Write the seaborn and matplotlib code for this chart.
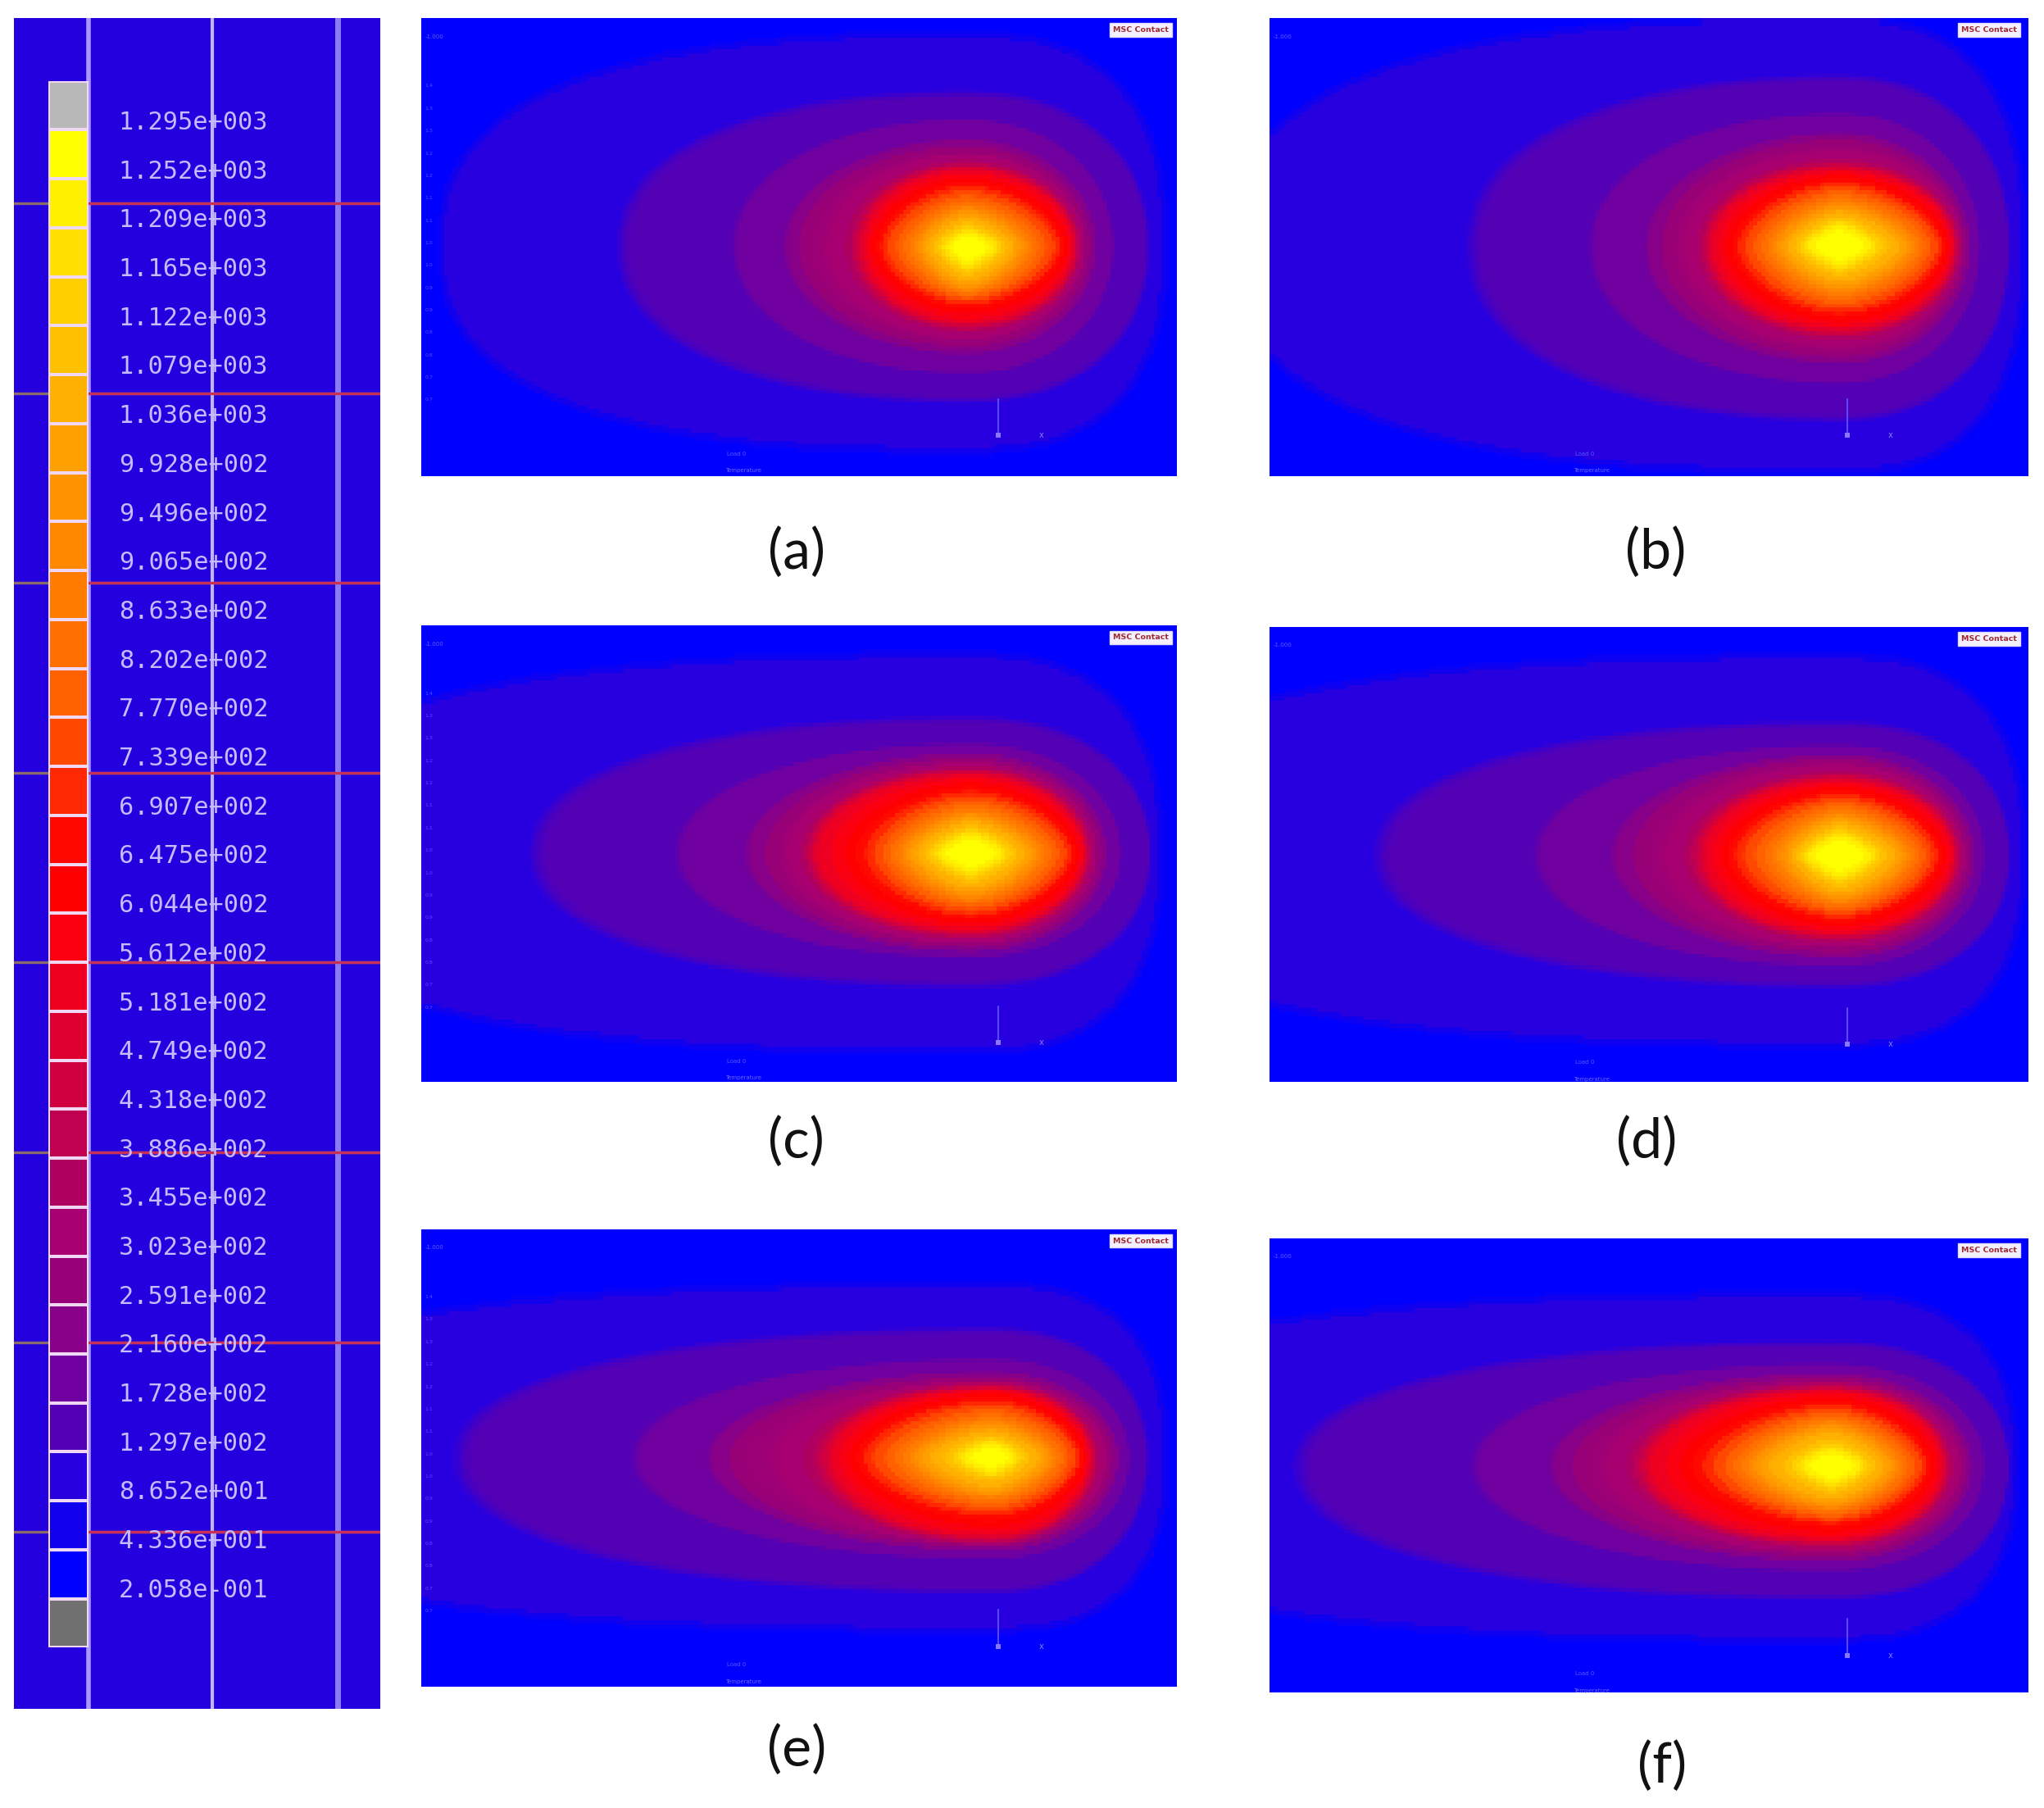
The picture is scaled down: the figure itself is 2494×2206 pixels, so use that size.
import numpy as np
import matplotlib
matplotlib.use("Agg")
import matplotlib.pyplot as plt
import seaborn as sns
from matplotlib.colors import ListedColormap, Normalize, to_rgb

# colour bar, top to bottom
bar_labels = ["1.295e+003", "1.252e+003", "1.209e+003", "1.165e+003", "1.122e+003", "1.079e+003",
              "1.036e+003", "9.928e+002", "9.496e+002", "9.065e+002", "8.633e+002", "8.202e+002",
              "7.770e+002", "7.339e+002", "6.907e+002", "6.475e+002", "6.044e+002", "5.612e+002",
              "5.181e+002", "4.749e+002", "4.318e+002", "3.886e+002", "3.455e+002", "3.023e+002",
              "2.591e+002", "2.160e+002", "1.728e+002", "1.297e+002", "8.652e+001", "4.336e+001",
              "2.058e-001"]
bar_colors = ["#ffff00", "#fff000", "#ffe000", "#ffd000", "#ffc000", "#ffb000", "#ffa000", "#ff9400",
              "#ff8800", "#ff7c00", "#ff7000", "#ff6000", "#ff4800", "#ff2800", "#ff0800", "#ff0000",
              "#fa0010", "#f00020", "#e00030", "#d00040", "#c00050", "#b00060", "#a80070", "#980078",
              "#880088", "#7000a0", "#5400b4", "#2800e0", "#1000ee", "#0000ff"]
over_color = "#b8b8b8"
under_color = "#707070"
band_edges = [0, 43.36, 86.52, 129.7, 172.8, 216, 259.1, 302.3, 345.5, 388.6, 431.8, 474.9, 518.1, 561.2,
              604.4, 647.5, 690.7, 733.9, 777, 820.2, 863.3, 906.5, 949.6, 992.8, 1036, 1079, 1122, 1165,
              1209, 1252, 1400]

# isotherm temperatures, outer to inner, and the peak
iso_temps = [92, 135, 195, 300, 518, 720, 1020, 1252]
peak_temp = 1295
floor_temp = 20

# panel readings: peak and the extent of every isotherm on the plate (x 0-580, y 0-350)
a_peak = (418, 175)
a_left = [15, 157, 249, 295, 338, 354, 385, 403]
a_right = [570, 558, 526, 510, 501, 488, 457, 438]
a_top = [12, 58, 81, 101, 115, 130, 150, 165]
a_bottom = [332, 293, 269, 249, 235, 218, 205, 188]

b_peak = (435, 175)
b_left = [-30, 159, 255, 305, 337, 360, 392, 412]
b_right = [576, 566, 538, 530, 523, 512, 485, 458]
b_top = [0, 46, 77, 96, 115, 127, 146, 160]
b_bottom = [348, 307, 276, 257, 240, 225, 205, 188]

c_peak = (421, 175)
c_left = [-130, 93, 208, 271, 302, 344, 376, 398]
c_right = [567, 560, 532, 519, 509, 497, 467, 444]
c_top = [22, 72, 94, 103, 113, 129, 148, 162]
c_bottom = [328, 276, 252, 247, 236, 222, 205, 188]

d_peak = (435, 176)
d_left = [-150, 90, 216, 285, 331, 358, 396, 412]
d_right = [576, 566, 542, 533, 523, 508, 481, 458]
d_top = [22, 75, 94, 103, 117, 130, 148, 162]
d_bottom = [323, 276, 259, 250, 238, 223, 208, 191]

e_peak = (437, 175)
e_left = [-200, 36, 178, 244, 314, 342, 384, 416]
e_right = [571, 557, 540, 528, 513, 504, 478, 454]
e_top = [42, 77, 103, 115, 121, 132, 152, 165]
e_bottom = [308, 278, 249, 243, 238, 218, 201, 185]

f_peak = (429, 176)
f_left = [-200, 29, 170, 239, 289, 335, 375, 408]
f_right = [570, 566, 542, 530, 515, 500, 473, 450]
f_top = [43, 81, 100, 109, 116, 130, 147, 164]
f_bottom = [311, 278, 254, 245, 235, 219, 205, 188]

panel_names = ["(a)", "(b)", "(c)", "(d)", "(e)", "(f)"]
tick_texts = ["1.4", "1.3", "1.3", "1.2", "1.2", "1.1", "1.1", "1.0", "1.0", "0.9", "0.9", "0.8", "0.8", "0.7", "0.7"]

W, H = 2494, 2206
SCALE = 2494 / 1568

iso_power = [2.6, 2.2, 2.1, 2.0, 2.0, 1.7, 1.5, 1.3]
CELL = 3.0


def add_axes_px(x0, y0, x1, y1):
    # corners in the 1568-wide picture, y down
    x0, x1, y0, y1 = x0 * SCALE, x1 * SCALE, y0 * SCALE, y1 * SCALE
    return fig.add_axes([x0 / W, 1 - y1 / H, (x1 - x0) / W, (y1 - y0) / H])


def box_blur(a, n=3):
    pad = n // 2
    k = np.ones(n) / n
    b = np.pad(a, pad, mode="edge")
    b = np.apply_along_axis(lambda v: np.convolve(v, k, mode="same"), 0, b)
    b = np.apply_along_axis(lambda v: np.convolve(v, k, mode="same"), 1, b)
    return b[pad:-pad, pad:-pad]


def temperature_field(peak, left, right, top, bottom):
    xs = np.arange(CELL / 2, 580, CELL)
    ys = np.arange(CELL / 2, 351, CELL)
    X, Y = np.meshgrid(xs, ys)
    dx = X - peak[0]
    dy = Y - peak[1]
    radii = []
    for k in range(len(iso_temps)):
        ax_x = np.where(dx < 0, peak[0] - left[k], right[k] - peak[0])
        ax_y = np.where(dy < 0, peak[1] - top[k], bottom[k] - peak[1])
        radii.append((np.abs(dx / ax_x) ** iso_power[k] + np.abs(dy / ax_y) ** iso_power[k]) ** (1 / iso_power[k]))
    radii = np.array(radii)
    inside = (radii <= 1).sum(axis=0)
    field = np.full(X.shape, float(floor_temp))
    for k in range(1, len(iso_temps)):
        m = inside == k
        r_in = radii[k - 1][m]
        r_out = radii[k][m]
        frac = (1 - r_in) / ((r_out - 1) + (1 - r_in))
        # outer rings read as flat bands that step up at the next isotherm
        if k <= 4:
            frac = frac ** 3
        field[m] = iso_temps[k - 1] + frac * (iso_temps[k] - iso_temps[k - 1])
    m = inside == len(iso_temps)
    field[m] = peak_temp + radii[-1][m] * (iso_temps[-1] - peak_temp)
    return box_blur(field, 3)


def draw_panel(box, label, label_xy, peak, left, right, top, bottom, ticks=False):
    ax = add_axes_px(*box)
    field = temperature_field(peak, left, right, top, bottom)
    sns.heatmap(field, ax=ax, cmap=field_cmap, norm=field_norm, cbar=False,
                xticklabels=False, yticklabels=False, rasterized=True)
    ax.set_axis_off()
    w, h = box[2] - box[0], box[3] - box[1]

    def tr(px, py):
        return px / w, 1 - py / h

    # logo box
    ax.text(*tr(552, 9), "MSC Contact", transform=ax.transAxes, ha="center", va="center",
            fontsize=6.8, color="#a02a30", fontweight="bold",
            bbox=dict(boxstyle="square,pad=0.4", fc="#f4f0ff", ec="#e0d8ff", lw=1))
    # triad
    ax.plot(*tr(np.array([443, 443]), np.array([292, 318])), transform=ax.transAxes, color="#5a48ff", lw=1.5)
    ax.plot(*tr(443, 320), "s", ms=4, transform=ax.transAxes, color="#8878ff", mew=0)
    ax.text(*tr(476, 320), "x", transform=ax.transAxes, color="#8080ff", fontsize=7, ha="center", va="center")
    # footer text
    ax.text(*tr(242, 334), "Load 0", transform=ax.transAxes, color="#5858ff", fontsize=5, ha="center", va="center")
    ax.text(*tr(247, 347), "Temperature", transform=ax.transAxes, color="#6868ff", fontsize=5, ha="center", va="center")
    ax.text(*tr(10, 14), "-1.000", transform=ax.transAxes, color="#6060ff", fontsize=5, ha="center", va="center")
    if ticks:
        for i, t in enumerate(tick_texts):
            ax.text(*tr(6, 52 + i * 17.2), t, transform=ax.transAxes, color="#5a48ff", fontsize=4.5,
                    ha="center", va="center")
    fig.text(label_xy[0] * SCALE / W, 1 - (label_xy[1] + 1) * SCALE / H, label, ha="center", va="center",
             fontsize=49, family="Lato", color="#111111")


sns.set_style("white")
fig = plt.figure(figsize=(W / 100, H / 100), dpi=100, facecolor="white")

# field colours: the bar's bands with softened edges, one entry per degree
band_rgb = np.array([to_rgb(c) for c in bar_colors[::-1]])
deg = np.arange(0, 1400)
step = band_rgb[np.clip(np.searchsorted(band_edges, deg, side="right") - 1, 0, len(band_rgb) - 1)]
soft = np.pad(step, ((5, 5), (0, 0)), mode="edge")
soft = np.apply_along_axis(lambda v: np.convolve(v, np.ones(11) / 11, mode="valid"), 0, soft)
field_cmap = ListedColormap(np.clip(soft, 0, 1))
field_norm = Normalize(0, 1400)

# left colour legend
bg = add_axes_px(11, 14, 292, 1311)
bg.set_xlim(11, 292)
bg.set_ylim(1311, 14)
bg.set_facecolor("#2400de")
bg.set_xticks([])
bg.set_yticks([])
for s in bg.spines.values():
    s.set_visible(False)
for i in range(8):
    y = 156 + i * 145.6
    bg.axhline(y, color="#8a6a6a", lw=2.4, zorder=1)
    bg.plot([68, 292], [y, y], color="#c83058", lw=2.4, zorder=3)
bg.axvline(68, color="#a898ff", lw=4, zorder=2)
bg.axvline(163, color="#c0b4ff", lw=3, zorder=2)
bg.axvline(259, color="#8c7cf4", lw=5, zorder=2)
for i, t in enumerate(bar_labels):
    bg.text(91, 94 + i * 37.53, t, family="DejaVu Sans Mono", fontsize=21.8, color="#c4bcff",
            ha="left", va="center", zorder=4)

bar_ax = add_axes_px(37, 62, 68, 1264)
bar_vals = np.arange(32).reshape(-1, 1)
bar_cmap = ListedColormap([over_color] + bar_colors + [under_color])
sns.heatmap(bar_vals, ax=bar_ax, cmap=bar_cmap, cbar=False, xticklabels=False, yticklabels=False,
            linewidths=1.6, linecolor="#f0d8f4")
bar_ax.set_axis_off()

draw_panel((323, 14, 903, 365), panel_names[0], (611, 423), a_peak, a_left, a_right, a_top, a_bottom, ticks=True)
draw_panel((974, 14, 1556, 365), panel_names[1], (1270, 423), b_peak, b_left, b_right, b_top, b_bottom)
draw_panel((323, 480, 903, 830), panel_names[2], (611, 875), c_peak, c_left, c_right, c_top, c_bottom, ticks=True)
draw_panel((974, 481, 1556, 830), panel_names[3], (1263, 875), d_peak, d_left, d_right, d_top, d_bottom)
draw_panel((323, 943, 903, 1294), panel_names[4], (611, 1342), e_peak, e_left, e_right, e_top, e_bottom, ticks=True)
draw_panel((974, 950, 1556, 1298), panel_names[5], (1275, 1354), f_peak, f_left, f_right, f_top, f_bottom)

fig.savefig("out.png", dpi=100)
